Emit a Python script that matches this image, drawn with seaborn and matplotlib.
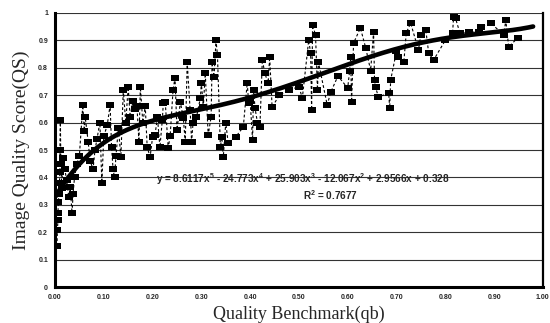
import numpy as np
import pandas as pd
import matplotlib
matplotlib.use("Agg")
import matplotlib.pyplot as plt
import seaborn as sns

# ---- data (sorted by quality benchmark) ----
qb = [0.004, 0.005, 0.006, 0.006, 0.007, 0.008, 0.009, 0.010, 0.010, 0.011,
      0.012, 0.014, 0.016, 0.020, 0.024, 0.028, 0.031, 0.035, 0.037, 0.040,
      0.045, 0.050, 0.057, 0.060, 0.062, 0.068, 0.072, 0.078, 0.082, 0.086,
      0.092, 0.096, 0.100, 0.107, 0.113, 0.116, 0.119, 0.122, 0.125, 0.130,
      0.135, 0.140, 0.145, 0.150, 0.154, 0.160, 0.165, 0.168, 0.172, 0.175,
      0.180, 0.185, 0.189, 0.195, 0.200, 0.205, 0.210, 0.215, 0.220, 0.222,
      0.226, 0.232, 0.236, 0.242, 0.246, 0.250, 0.257, 0.263, 0.267, 0.271,
      0.277, 0.280, 0.283, 0.290, 0.298, 0.300, 0.304, 0.308, 0.314, 0.320,
      0.322, 0.326, 0.330, 0.333, 0.339, 0.342, 0.345, 0.350, 0.355, 0.370,
      0.386, 0.394, 0.397, 0.400, 0.405, 0.407, 0.410, 0.415, 0.420, 0.425,
      0.430, 0.437, 0.440, 0.445, 0.460, 0.480, 0.500, 0.507, 0.520, 0.524,
      0.526, 0.528, 0.534, 0.538, 0.540, 0.558, 0.565, 0.580, 0.600, 0.604,
      0.606, 0.608, 0.612, 0.626, 0.637, 0.647, 0.653, 0.655, 0.657, 0.663,
      0.684, 0.686, 0.688, 0.700, 0.704, 0.715, 0.720, 0.729, 0.745, 0.750,
      0.760, 0.766, 0.776, 0.800, 0.815, 0.817, 0.821, 0.830, 0.848, 0.870,
      0.873, 0.893, 0.920, 0.924, 0.930, 0.949]
qs = [0.15, 0.21, 0.245, 0.27, 0.31, 0.34, 0.38, 0.42, 0.50, 0.61,
      0.45, 0.36, 0.47, 0.43, 0.39, 0.33, 0.365, 0.27, 0.34, 0.40,
      0.45, 0.48, 0.664, 0.57, 0.62, 0.53, 0.46, 0.43, 0.50, 0.54,
      0.60, 0.38, 0.55, 0.59, 0.664, 0.51, 0.43, 0.40, 0.48, 0.58,
      0.475, 0.72, 0.60, 0.73, 0.62, 0.68, 0.65, 0.66, 0.53, 0.73,
      0.60, 0.66, 0.51, 0.475, 0.547, 0.555, 0.62, 0.51, 0.61, 0.67,
      0.675, 0.507, 0.55, 0.72, 0.763, 0.573, 0.675, 0.617, 0.53, 0.82,
      0.646, 0.53, 0.60, 0.62, 0.69, 0.745, 0.657, 0.78, 0.555, 0.62,
      0.82, 0.766, 0.90, 0.847, 0.51, 0.547, 0.475, 0.60, 0.525, 0.547,
      0.584, 0.745, 0.67, 0.68, 0.536, 0.72, 0.653, 0.60, 0.584, 0.83,
      0.78, 0.745, 0.84, 0.657, 0.70, 0.72, 0.73, 0.69, 0.90, 0.854,
      0.646, 0.956, 0.92, 0.72, 0.82, 0.664, 0.71, 0.77, 0.726, 0.79,
      0.84, 0.675, 0.89, 0.945, 0.872, 0.79, 0.93, 0.755, 0.73, 0.693,
      0.708, 0.653, 0.755, 0.86, 0.84, 0.82, 0.927, 0.963, 0.865, 0.92,
      0.938, 0.854, 0.828, 0.90, 0.927, 0.985, 0.98, 0.927, 0.93, 0.93,
      0.95, 0.963, 0.92, 0.974, 0.876, 0.91]

# 5th-order trendline coefficients as printed on the chart (highest power first)
trend_coef = [8.6117, -24.773, 25.903, -12.067, 2.9566, 0.328]
equation_text = "y = 8.6117x$^5$ - 24.773x$^4$ + 25.903x$^3$ - 12.067x$^2$ + 2.9566x + 0.328"
r2_text = "R$^2$ = 0.7677"

x_ticks = [0.0, 0.1, 0.2, 0.3, 0.4, 0.5, 0.6, 0.7, 0.8, 0.9, 1.0]
x_ticklabels = ["0.00", "0.10", "0.20", "0.30", "0.40", "0.50", "0.60", "0.70", "0.80", "0.90", "1.00"]
y_ticks = [0.0, 0.1, 0.2, 0.3, 0.4, 0.5, 0.6, 0.7, 0.8, 0.9, 1.0]
y_ticklabels = ["0", "0.1", "0.2", "0.3", "0.4", "0.5", "0.6", "0.7", "0.8", "0.9", "1"]

df = pd.DataFrame({"qb": qb, "qs": qs})
xt = np.linspace(0, 0.98, 300)
trend = pd.DataFrame({"qb": xt, "qs": np.polyval(trend_coef, xt)})

sns.set_style("white")
plt.rcParams["font.family"] = ["Liberation Sans", "DejaVu Sans"]
plt.rcParams["mathtext.fontset"] = "custom"
plt.rcParams["mathtext.rm"] = "Liberation Sans:bold"
plt.rcParams["mathtext.it"] = "Liberation Sans:bold"
plt.rcParams["mathtext.bf"] = "Liberation Sans:bold"

fig = plt.figure(figsize=(5.5, 3.23), dpi=100)
ax = fig.add_axes([0.1, 0.111, 0.887, 0.849])

for yv in y_ticks:
    ax.axhline(yv, color="#333333", lw=0.8, zorder=0)

rect = [(-1.6, -1.0), (1.6, -1.0), (1.6, 1.0), (-1.6, 1.0), (-1.6, -1.0)]
sns.lineplot(data=df, x="qb", y="qs", ax=ax, color="black", lw=0.8,
             linestyle=(0, (2.5, 2.0)), sort=False, estimator=None, zorder=2)
sns.scatterplot(data=df, x="qb", y="qs", ax=ax, color="black", marker=rect,
                s=34, linewidth=0, zorder=3)
sns.lineplot(data=trend, x="qb", y="qs", ax=ax, color="black", lw=3.3,
             sort=False, estimator=None, zorder=4)

ax.set_xlim(0, 1.0)
ax.set_ylim(0, 1.0)
ax.set_xticks(x_ticks)
ax.set_xticklabels(x_ticklabels, fontsize=5, fontweight="bold")
ax.set_yticks(y_ticks)
ax.set_yticklabels(y_ticklabels, fontsize=5, fontweight="bold")
ax.tick_params(length=0, pad=5)

for s in ["left", "bottom", "right"]:
    ax.spines[s].set_visible(True)
    ax.spines[s].set_color("black")
ax.spines["left"].set_linewidth(2.2)
ax.spines["bottom"].set_linewidth(2.2)
ax.spines["right"].set_linewidth(1.6)
ax.spines["top"].set_visible(False)

ax.set_xlabel("Quality Benchmark(qb)", family=["Liberation Serif", "DejaVu Serif"],
              fontsize=13, labelpad=3)
ax.set_ylabel("Image Quality Score(QS)", family=["Liberation Serif", "DejaVu Serif"],
              fontsize=14, labelpad=6)

ax.text(0.508, 0.393, equation_text, fontsize=7.2, fontweight="bold",
        ha="center", va="center", zorder=5)
ax.text(0.565, 0.335, r2_text, fontsize=7.2, fontweight="bold",
        ha="center", va="center", zorder=5)

fig.savefig("out.png", dpi=100)
